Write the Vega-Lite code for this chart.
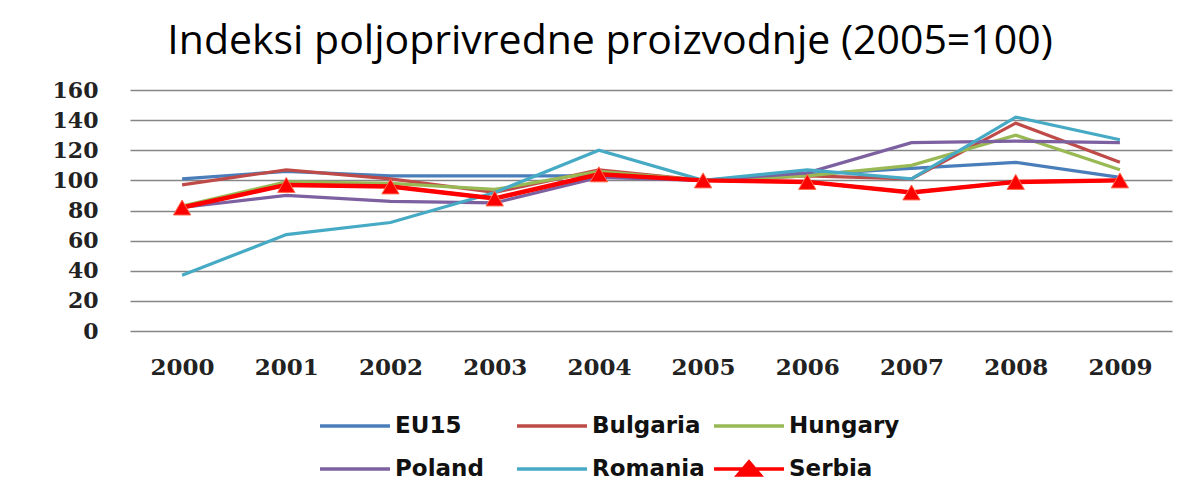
{
  "$schema": "https://vega.github.io/schema/vega-lite/v6.json",
  "width": 1042,
  "height": 241,
  "autosize": "none",
  "padding": {"left": 130, "top": 90, "right": 16, "bottom": 161},
  "background": "white",
  "title": {
    "text": "Indeksi poljoprivredne proizvodnje (2005=100)",
    "font": "Open Sans",
    "fontSize": 41,
    "fontWeight": "normal",
    "color": "#000000",
    "anchor": "middle",
    "frame": "group",
    "dx": -41,
    "offset": -16,
    "baseline": "alphabetic"
  },
  "config": {
    "view": {"stroke": null},
    "axis": {"domain": false, "ticks": false, "tickSize": 0}
  },
  "data": {
    "values": [
      {"year": "2000", "series": "EU15", "value": 101},
      {"year": "2001", "series": "EU15", "value": 106},
      {"year": "2002", "series": "EU15", "value": 103},
      {"year": "2003", "series": "EU15", "value": 103},
      {"year": "2004", "series": "EU15", "value": 103},
      {"year": "2005", "series": "EU15", "value": 100},
      {"year": "2006", "series": "EU15", "value": 104},
      {"year": "2007", "series": "EU15", "value": 108},
      {"year": "2008", "series": "EU15", "value": 112},
      {"year": "2009", "series": "EU15", "value": 102},
      {"year": "2000", "series": "Bulgaria", "value": 97},
      {"year": "2001", "series": "Bulgaria", "value": 107},
      {"year": "2002", "series": "Bulgaria", "value": 101},
      {"year": "2003", "series": "Bulgaria", "value": 92},
      {"year": "2004", "series": "Bulgaria", "value": 107},
      {"year": "2005", "series": "Bulgaria", "value": 100},
      {"year": "2006", "series": "Bulgaria", "value": 103},
      {"year": "2007", "series": "Bulgaria", "value": 101},
      {"year": "2008", "series": "Bulgaria", "value": 138},
      {"year": "2009", "series": "Bulgaria", "value": 112},
      {"year": "2000", "series": "Hungary", "value": 83},
      {"year": "2001", "series": "Hungary", "value": 99},
      {"year": "2002", "series": "Hungary", "value": 98},
      {"year": "2003", "series": "Hungary", "value": 94},
      {"year": "2004", "series": "Hungary", "value": 106},
      {"year": "2005", "series": "Hungary", "value": 100},
      {"year": "2006", "series": "Hungary", "value": 103},
      {"year": "2007", "series": "Hungary", "value": 110},
      {"year": "2008", "series": "Hungary", "value": 130},
      {"year": "2009", "series": "Hungary", "value": 107},
      {"year": "2000", "series": "Poland", "value": 82},
      {"year": "2001", "series": "Poland", "value": 90},
      {"year": "2002", "series": "Poland", "value": 86},
      {"year": "2003", "series": "Poland", "value": 85},
      {"year": "2004", "series": "Poland", "value": 102},
      {"year": "2005", "series": "Poland", "value": 100},
      {"year": "2006", "series": "Poland", "value": 105},
      {"year": "2007", "series": "Poland", "value": 125},
      {"year": "2008", "series": "Poland", "value": 126},
      {"year": "2009", "series": "Poland", "value": 125},
      {"year": "2000", "series": "Romania", "value": 37},
      {"year": "2001", "series": "Romania", "value": 64},
      {"year": "2002", "series": "Romania", "value": 72},
      {"year": "2003", "series": "Romania", "value": 92},
      {"year": "2004", "series": "Romania", "value": 120},
      {"year": "2005", "series": "Romania", "value": 100},
      {"year": "2006", "series": "Romania", "value": 107},
      {"year": "2007", "series": "Romania", "value": 101},
      {"year": "2008", "series": "Romania", "value": 142},
      {"year": "2009", "series": "Romania", "value": 127},
      {"year": "2000", "series": "Serbia", "value": 82},
      {"year": "2001", "series": "Serbia", "value": 97},
      {"year": "2002", "series": "Serbia", "value": 96},
      {"year": "2003", "series": "Serbia", "value": 88},
      {"year": "2004", "series": "Serbia", "value": 104},
      {"year": "2005", "series": "Serbia", "value": 100},
      {"year": "2006", "series": "Serbia", "value": 99},
      {"year": "2007", "series": "Serbia", "value": 92},
      {"year": "2008", "series": "Serbia", "value": 99},
      {"year": "2009", "series": "Serbia", "value": 100}
    ]
  },
  "encoding": {
    "x": {
      "field": "year",
      "type": "ordinal",
      "scale": {"type": "point", "padding": 0.5},
      "axis": {
        "title": null,
        "labelAngle": 0,
        "labelFont": "DejaVu Serif",
        "labelFontWeight": "bold",
        "labelFontSize": 23,
        "labelColor": "#222222",
        "labelPadding": 25,
        "grid": false
      }
    },
    "y": {
      "field": "value",
      "type": "quantitative",
      "scale": {"domain": [0, 160], "nice": false},
      "axis": {
        "title": null,
        "values": [0, 20, 40, 60, 80, 100, 120, 140, 160],
        "labelFont": "DejaVu Serif",
        "labelFontWeight": "bold",
        "labelFontSize": 22,
        "labelColor": "#222222",
        "labelPadding": 32,
        "grid": true,
        "gridColor": "#868686",
        "gridWidth": 1.4
      }
    }
  },
  "layer": [
    {
      "mark": {"type": "line", "strokeWidth": 3.2},
      "encoding": {
        "color": {
          "field": "series",
          "type": "nominal",
          "sort": null,
          "scale": {
            "domain": ["EU15", "Bulgaria", "Hungary", "Poland", "Romania", "Serbia"],
            "range": ["#4A7EBB", "#BE4B48", "#98B954", "#7D60A0", "#46AAC5", "#FF0000"]
          },
          "legend": {
            "title": null,
            "orient": "none",
            "legendX": 230,
            "legendY": 319,
            "direction": "horizontal",
            "columns": 3,
            "gridAlign": "all",
            "columnPadding": 2,
            "rowPadding": 14,
            "padding": 0,
            "symbolType": "stroke",
            "symbolSize": 784,
            "symbolStrokeWidth": 3.5,
            "symbolOffset": 0,
            "labelOffset": 3,
            "labelFont": "DejaVu Sans",
            "labelFontWeight": "bold",
            "labelFontSize": 23,
            "labelColor": "#111111",
            "labelLimit": 300,
            "encode": {
              "symbols": {
                "update": {
                  "shape": {"signal": "datum.value === 'Serbia' ? 'M-4,0H1M-2.3,0.43L-1.5,-0.5L-0.7,0.43Z' : 'M-4,0H1'"},
                  "fill": {"signal": "datum.value === 'Serbia' ? '#FF0000' : 'transparent'"}
                }
              }
            }
          }
        }
      }
    },
    {
      "transform": [{"filter": "datum.series === 'Serbia'"}],
      "mark": {"type": "line", "strokeWidth": 4.5, "color": "#FF0000"},
      "encoding": {}
    },
    {
      "transform": [{"filter": "datum.series === 'Serbia'"}],
      "mark": {"type": "point", "shape": "triangle-up", "filled": true, "size": 300, "color": "#FF0000", "stroke": "#FF6A4D", "strokeWidth": 1, "opacity": 1},
      "encoding": {}
    }
  ]
}
